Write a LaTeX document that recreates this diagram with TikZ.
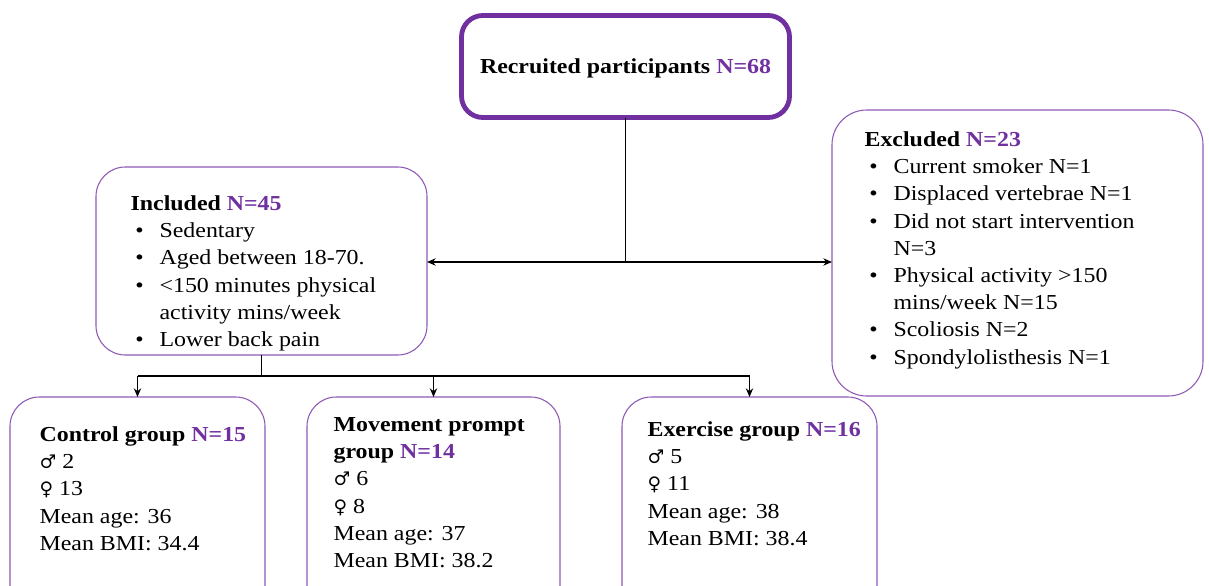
\documentclass[tikz,border=0pt]{standalone}
\usepackage{fontspec}
\setmainfont{Liberation Serif}[FakeStretch=1.12]
\newfontfamily\gendersym{DejaVu Serif}
\usepackage{xcolor}
\usetikzlibrary{shapes, arrows.meta, positioning, calc}

\definecolor{nPurple}{HTML}{7030A0}
\newcommand{\boxfont}{\fontsize{16pt}{20.4pt}\selectfont}
\newcommand{\nval}[1]{\textcolor{nPurple}{\textbf{#1}}}
\newcommand{\bitem}{\makebox[21.75pt][l]{\hspace{3.5pt}\textbullet}}
\newcommand{\bcont}{\hspace*{21.75pt}}
\newcommand{\male}{{\gendersym\fontsize{14pt}{14pt}\selectfont ♂}}
\newcommand{\female}{{\gendersym\fontsize{14pt}{14pt}\selectfont ♀}}

\begin{document}
\begin{tikzpicture}[x=0.75pt, y=-0.75pt, >={Stealth[length=6.5pt, width=5.5pt]}, line width=0.9pt]
    \tikzset{
        groupbox/.style={rectangle, draw=nPurple!80, line width=0.8pt, rounded corners=22pt, outer sep=0pt, inner sep=0pt, anchor=north west},
        boxtext/.style={inner sep=0pt, align=left, font=\boxfont}
    }
    \useasboundingbox (0,0) rectangle (1209,585);
    \clip (0,0) rectangle (1209,585);

    % top box
    \node[groupbox, draw=nPurple, line width=3.6pt, rounded corners=16pt, minimum width=246pt, minimum height=76.5pt, anchor=center, text depth=0pt, font=\boxfont] (recruit) at (625.5,66.5) {\textbf{Recruited participants} \nval{N=68}};

    % included / excluded
    \node[groupbox, minimum width=248.25pt, minimum height=141pt] (included) at (96,167) {};
    \node[boxtext, below right=21pt and 25.5pt of included.north west] (includedtxt) {%
        \textbf{Included} \nval{N=45}\\
        \bitem Sedentary\\
        \bitem Aged between 18-70.\\
        \bitem <150 minutes physical\\
        \bcont activity mins/week\\
        \bitem Lower back pain};

    \node[groupbox, rounded corners=26pt, minimum width=278.25pt, minimum height=214.5pt] (excluded) at (832,110) {};
    \node[boxtext, below right=15.75pt and 24pt of excluded.north west] (excludedtxt) {%
        \textbf{Excluded} \nval{N=23}\\
        \bitem Current smoker N=1\\
        \bitem Displaced vertebrae N=1\\
        \bitem Did not start intervention\\
        \bcont N=3\\
        \bitem Physical activity >150\\
        \bcont mins/week N=15\\
        \bitem Scoliosis N=2\\
        \bitem Spondylolisthesis N=1};

    % groups (cut at the bottom)
    \node[groupbox, minimum width=191.25pt, minimum height=165pt] (control) at (10,397) {};
    \node[boxtext, below right=21.75pt and 21.75pt of control.north west] (controltxt) {%
        \textbf{Control group} \nval{N=15}\\
        \male{} 2\\
        \female{} 13\\
        Mean age: 36\\
        Mean BMI: 34.4};

    \node[groupbox, minimum width=189.75pt, minimum height=165pt] (movement) at (307,397) {};
    \node[boxtext, below right=15pt and 19.5pt of movement.north west] (movementtxt) {%
        \textbf{Movement prompt}\\
        \textbf{group} \nval{N=14}\\
        \male{} 6\\
        \female{} 8\\
        Mean age: 37\\
        Mean BMI: 38.2};

    \node[groupbox, minimum width=191.25pt, minimum height=165pt] (exercise) at (622,397) {};
    \node[boxtext, below right=18pt and 18.75pt of exercise.north west] (exercisetxt) {%
        \textbf{Exercise group} \nval{N=16}\\
        \male{} 5\\
        \female{} 11\\
        Mean age: 38\\
        Mean BMI: 38.4};

    % connectors
    \coordinate (split) at (625.5,262);
    \coordinate (branch) at (261.5,376);

    \draw (recruit.south) -- (split);
    \draw[->] (split) -- (split -| included.east);
    \draw[->] (split) -- (split -| excluded.west);

    \draw (included.south) -- (branch);
    \draw (control.north |- branch) -- (exercise.north |- branch);
    \foreach \grp in {control, movement, exercise}
        \draw[->] (\grp.north |- branch) -- (\grp.north);

\end{tikzpicture}
\end{document}
